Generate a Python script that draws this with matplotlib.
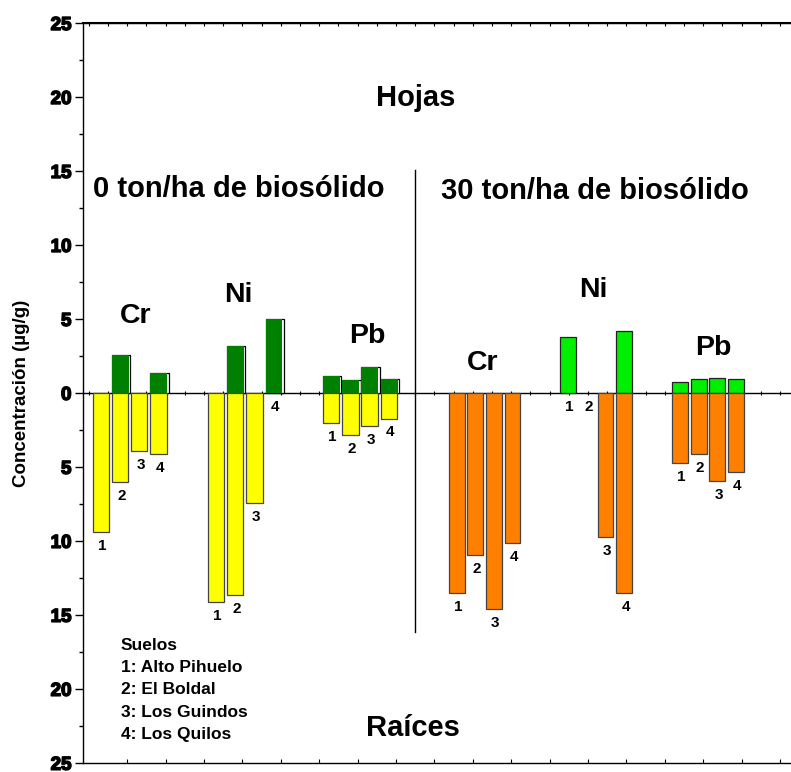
import matplotlib
matplotlib.use('Agg')
import matplotlib.pyplot as plt
import matplotlib.patheffects as pe
import numpy as np

plt.rcParams['font.family'] = ['Liberation Sans', 'DejaVu Sans']
plt.rcParams['font.weight'] = 'bold'

metals = ['Cr', 'Ni', 'Pb']
soils = ['Alto Pihuelo', 'El Boldal', 'Los Guindos', 'Los Quilos']

# concentraciones (ug/g) por suelo 1-4; 0 = sin dato
hojas_0_cr = [0.0, 2.6, 0.0, 1.4]
hojas_0_ni = [0.0, 3.2, 0.0, 5.0]
hojas_0_pb = [1.2, 0.9, 1.8, 1.0]
raices_0_cr = [9.4, 6.0, 3.9, 4.1]
raices_0_ni = [14.1, 13.6, 7.4, 0.0]
raices_0_pb = [2.0, 2.8, 2.2, 1.7]

hojas_30_cr = [0.0, 0.0, 0.0, 0.0]
hojas_30_ni = [3.8, 0.0, 0.0, 4.2]
hojas_30_pb = [0.75, 0.95, 1.05, 0.95]
raices_30_cr = [13.5, 10.9, 14.6, 10.1]
raices_30_ni = [0.0, 0.0, 9.7, 13.5]
raices_30_pb = [4.7, 4.1, 5.9, 5.3]

hojas_0 = [hojas_0_cr, hojas_0_ni, hojas_0_pb]
raices_0 = [raices_0_cr, raices_0_ni, raices_0_pb]
hojas_30 = [hojas_30_cr, hojas_30_ni, hojas_30_pb]
raices_30 = [raices_30_cr, raices_30_ni, raices_30_pb]

fig = plt.figure(figsize=(7.91, 7.72), dpi=100)
ax = fig.add_axes([0.1043, 0.0113, 0.895, 0.9583])
ax.set_xlim(-0.958, 35.92)
ax.set_ylim(-25, 25)


def positions(base, pitch):
    return [[base + pitch * (m * 6 + s) for s in range(4)] for m in range(3)]


def draw_panel(pos, pitch, hojas, raices, c_hoja, c_raiz, shadow):
    w = 0.85 * pitch
    for m in range(3):
        for s in range(4):
            x = pos[m][s]
            h = hojas[m][s]
            r = raices[m][s]
            if h > 0:
                if shadow:
                    ax.bar(x - w / 2, h, width=w * 1.12, align='edge',
                           color='white', edgecolor='black', linewidth=0.9, zorder=2)
                    ax.bar(x - w / 2, h, width=w * 1.04, align='edge',
                           color=c_hoja, edgecolor='none', zorder=3)
                else:
                    ax.bar(x, h, width=w, color=c_hoja, edgecolor='#222222',
                           linewidth=0.9, zorder=3)
            if r > 0:
                ax.bar(x, -r, width=w, color=c_raiz, edgecolor='#444444',
                       linewidth=0.9, zorder=3)
            ax.annotate(str(s + 1), (x, -r), xytext=(1, -5), textcoords='offset points',
                        ha='center', va='top', fontsize=11, fontweight='bold')


draw_panel(positions(0.0, 1.0), 1.0, hojas_0, raices_0, '#008000', '#ffff00', True)
draw_panel(positions(18.53, 0.97), 0.97, hojas_30, raices_30, '#00ee00', '#ff8000', False)

# titulos de metales
metal_xy_0 = [(1.82, 5.24), (7.14, 6.68), (13.87, 3.89)]
metal_xy_30 = [(19.89, 2.02), (25.65, 7.0), (31.92, 3.05)]
for name, (x, y) in zip(metals, metal_xy_0):
    ax.text(x, y, name, ha='center', va='center', fontsize=20.5, fontweight='bold')
for name, (x, y) in zip(metals, metal_xy_30):
    ax.text(x, y, name, ha='center', va='center', fontsize=20.5, fontweight='bold')

ax.text(16.41, 19.96, 'Hojas', ha='center', va='center', fontsize=21, fontweight='bold')
ax.text(16.27, -22.6, 'Raíces', ha='center', va='center', fontsize=21, fontweight='bold')
ax.text(-0.41, 13.81, '0 ton/ha de biosólido', ha='left', va='center',
        fontsize=21, fontweight='bold')
ax.text(17.71, 13.68, '30 ton/ha de biosólido', ha='left', va='center',
        fontsize=21, fontweight='bold')

# separador entre tratamientos
ax.plot([16.36, 16.36], [-16.1, 15.1], color='black', linewidth=1.0)

# leyenda de suelos
ax.text(1.03, -17.05, 'Suelos', ha='left', va='center', fontsize=12.5, fontweight='bold')
for i, name in enumerate(soils):
    ax.text(1.03, -18.5 - 1.52 * i, f'{i + 1}: {name}', ha='left', va='center',
            fontsize=12.5, fontweight='bold')

# ejes
ax.spines['right'].set_visible(False)
for sp in ['left', 'top', 'bottom']:
    ax.spines[sp].set_linewidth(1.0)
yt = np.arange(-25, 26, 5)
ax.set_yticks(yt)
ax.set_yticklabels([str(abs(v)) for v in yt], fontsize=13.5, fontweight='bold')
for lab in ax.get_yticklabels():
    lab.set_path_effects([pe.withStroke(linewidth=1.1, foreground='black')])
ax.set_yticks(np.arange(-22.5, 25, 5), minor=True)
ax.tick_params(axis='y', which='major', direction='out', length=6, width=1, pad=2)
ax.tick_params(axis='y', which='minor', direction='out', length=3, width=1)

ax.set_xticks(np.arange(1.375, 36, 2))
ax.tick_params(axis='x', direction='in', length=3, width=0.8, labelbottom=False)

top = ax.secondary_xaxis('top')
top.set_xticks(np.arange(-0.625, 36, 1))
top.tick_params(axis='x', direction='in', length=2, width=0.8, labeltop=False)
top.spines['top'].set_linewidth(1.5)

mid = ax.secondary_xaxis(0.5)
mid.set_xticks(np.arange(-0.625, 36, 1))
mid.tick_params(axis='x', direction='inout', length=3, width=0.8,
                labelbottom=False, labeltop=False)
for sp in mid.spines.values():
    sp.set_linewidth(1.0)
mid.set_zorder(1)

fig.text(22 / 791, 1 - 393 / 772, 'Concentración (µg/g)', rotation=90,
         ha='center', va='center', fontsize=13.5, fontweight='bold')

fig.savefig('out.png', dpi=100)
